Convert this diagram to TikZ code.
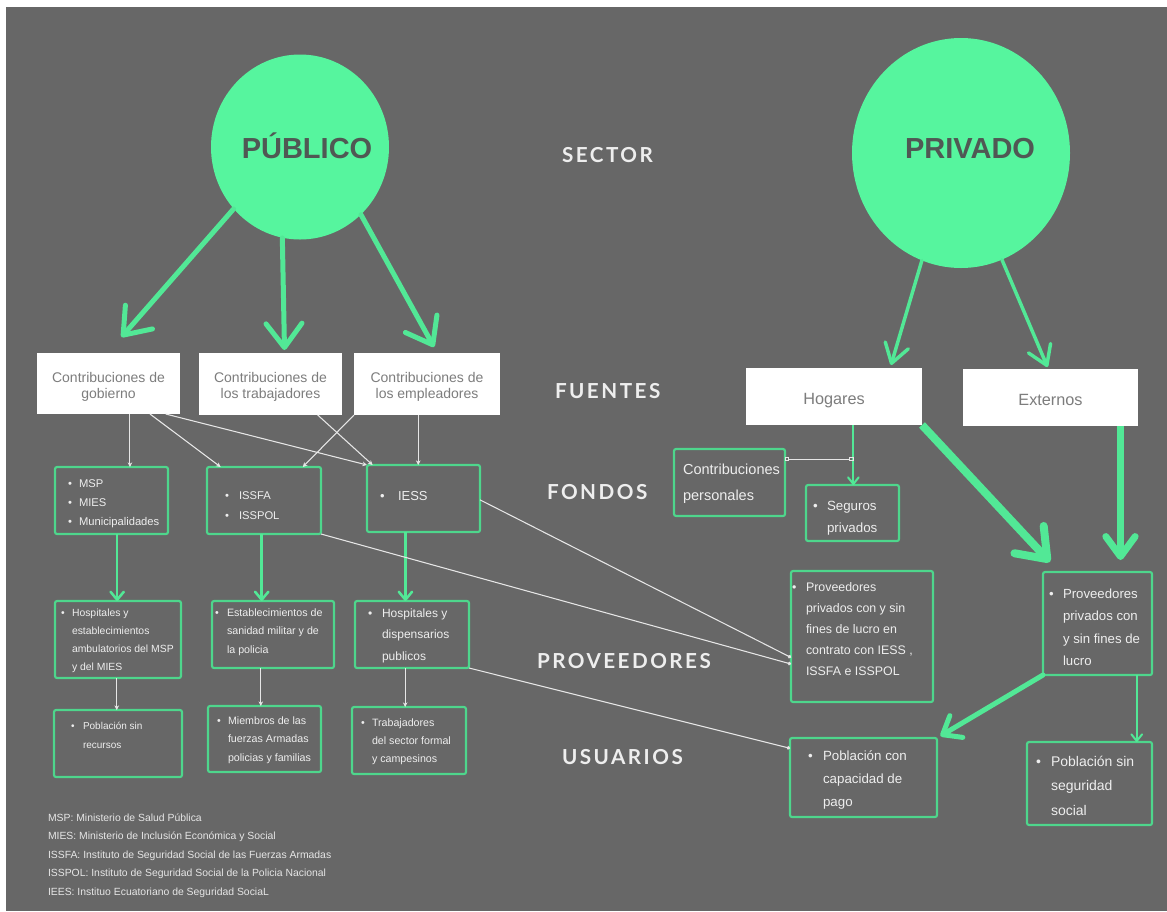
\documentclass[tikz,border=0pt]{standalone}
\usepackage{fontspec}
\setmainfont{Liberation Sans}
\newfontfamily\latof{Lato}[LetterSpace=12]
\usetikzlibrary{arrows.meta,calc,shapes.geometric}
\definecolor{bg}{RGB}{103,103,103}
\definecolor{mint}{RGB}{86,245,158}
\definecolor{gline}{RGB}{78,214,140}
\definecolor{garrow}{RGB}{82,232,150}
\definecolor{wtext}{RGB}{238,238,238}
\definecolor{btext}{RGB}{125,125,125}
\definecolor{ctext}{RGB}{80,88,84}
\definecolor{thinl}{RGB}{230,230,230}
\newcommand\bx[6][gbox]{\node[#1, anchor=north west, minimum width={(#5-#3)*0.75pt}, minimum height={(#6-#4)*0.75pt}] (#2) at (#3,#4) {};}
\newcommand\tl[7][tx]{\foreach \l [count=\i] in {#7}{\node[#1, font=\fontsize{#3}{#3}\selectfont] (#2\i) at (#4,{#5+(\i-1)*#6}) {\l};}}
\newcommand\bu[4]{\node[tx, font=\fontsize{#2}{#2}\selectfont] (#1) at (#3,#4) {\textbullet};}
\tikzset{
  gbox/.style={draw=gline, line width=1.6pt, rounded corners=1.5pt, fill=bg, inner sep=0pt, outer sep=0pt},
  wbox/.style={fill=white, draw=none, inner sep=0pt, outer sep=0pt},
  tx/.style={text=wtext, inner sep=0pt, outer sep=0pt, anchor=base west},
  btx/.style={text=btext, inner sep=0pt, outer sep=0pt, anchor=base},
  lg/.style={text=thinl, inner sep=0pt, outer sep=0pt, anchor=base west},
  hd/.style={text=wtext, inner sep=0pt, outer sep=0pt, anchor=base west, font=\latof\bfseries\fontsize{15.5}{15.5}\selectfont},
  ctx/.style={text=ctext, inner sep=0pt, anchor=base, font=\bfseries\fontsize{21.75}{21.75}\selectfont},
  thinar/.style={draw=thinl, line width=0.8pt, -{Stealth[length=3.5pt,width=3.5pt]}},
  thindot/.style={draw=thinl, line width=0.8pt, -{Circle[length=2.6pt]}},
  sgarr/.style={draw=garrow, line width=1.9pt, -{Straight Barb[length=6pt,width=10pt,round]}},
  tgarr/.style={draw=garrow, line width=1.5pt, -{Straight Barb[length=5pt,width=8pt,round]}},
  pubarr/.style={draw=garrow, line width=3.75pt, line cap=round, -{Straight Barb[length=18pt,width=27pt,round]}},
  privarr/.style={draw=garrow, line width=2.6pt, line cap=round, -{Straight Barb[length=14pt,width=18pt,round]}},
}
\begin{document}
\begin{tikzpicture}[x=0.75pt,y=-0.75pt]
\useasboundingbox (0,0) rectangle (1167,911);
\fill[white] (0,0) rectangle (1167,911);
\fill[bg] (6,7) rectangle (1167,911);
% sector circles
\node[ellipse, fill=mint, inner sep=0pt, minimum width={178*0.75pt}, minimum height={185*0.75pt}] (pub) at (300,147) {};
\node[ctx] (pubt) at (307,158) {PÚBLICO};
\node[ellipse, fill=mint, inner sep=0pt, minimum width={218*0.75pt}, minimum height={230*0.75pt}] (priv) at (961,153) {};
\node[ctx] (privt) at (970,158) {PRIVADO};
% headings
\node[hd] (lsec) at (562,162) {SECTOR};
\node[hd] (lfue) at (555,398) {FUENTES};
\node[hd] (lfon) at (547,499) {FONDOS};
\node[hd] (lpro) at (537,668) {PROVEEDORES};
\node[hd] (lusu) at (562,764) {USUARIOS};
% fuentes
\bx[wbox]{gob}{37}{353}{180}{414}
\bx[wbox]{trab}{199}{353}{342}{415}
\bx[wbox]{emp}{354}{353}{500}{415}
\bx[wbox]{hog}{746}{368}{922}{425}
\bx[wbox]{ext}{963}{369}{1138}{426}
\tl[btx]{gobt}{10.5}{108.5}{382}{16}{Contribuciones de,gobierno}
\tl[btx]{trabt}{10.5}{270.5}{382}{16}{Contribuciones de,los trabajadores}
\tl[btx]{empt}{10.5}{427}{382}{16}{Contribuciones de,los empleadores}
\tl[btx]{hogt}{12.2}{834}{404}{16}{Hogares}
\tl[btx]{extt}{12.2}{1050.5}{405}{16}{Externos}
% fondos
\bx{fmsp}{55}{467}{168}{534}
\foreach \y [count=\k] in {487,506,525}{\bu{fmspb\k}{8.4}{68}{\y}}
\tl{fmspt}{8.4}{79}{487}{19}{MSP,MIES,Municipalidades}
\bx{fiss}{207}{467}{321}{534}
\foreach \y [count=\k] in {499,519}{\bu{fissb\k}{8.4}{225}{\y}}
\tl{fisst}{8.4}{239}{499}{20}{ISSFA,ISSPOL}
\bx{fiess}{367}{465}{480}{532}
\bu{fiessb}{9.75}{380}{500}
\tl{fiesst}{9.75}{398}{500}{20}{IESS}
\bx{cp}{674}{449}{785}{516}
\tl{cpt}{10.9}{683}{474}{26}{Contribuciones,personales}
\bx{seg}{806}{485}{899}{541}
\bu{segb}{10}{813}{510}
\tl{segt}{10}{827}{510}{22}{Seguros,privados}
% proveedores
\bx{pr1}{55}{601}{181}{678}
\bu{pr1b}{7.8}{61}{616}
\tl{pr1t}{7.8}{72}{616}{18}{Hospitales y,establecimientos,ambulatorios del MSP,y del MIES}
\bx{pr2}{212}{601}{334}{668}
\bu{pr2b}{8}{215}{616}
\tl{pr2t}{8}{227}{616}{18.5}{Establecimientos de,sanidad militar y de,la policia}
\bx{pr3}{355}{601}{469}{668}
\bu{pr3b}{9}{368}{617}
\tl{pr3t}{9}{382}{617}{21.5}{Hospitales y,dispensarios,publicos}
\bx{pp1}{791}{571}{933}{702}
\bu{pp1b}{9.3}{792}{591}
\tl{pp1t}{9.3}{806}{591}{21.2}{Proveedores,privados con y sin,fines de lucro en,{contrato con IESS ,},ISSFA e ISSPOL}
\bx{pp2}{1043}{572}{1152}{675}
\bu{pp2b}{9.9}{1049}{598}
\tl{pp2t}{9.9}{1063}{598}{22.5}{Proveedores,privados con,y sin fines de,lucro}
% usuarios
\bx{u1}{54}{710}{182}{777}
\bu{u1b}{7.5}{71}{729}
\tl{u1t}{7.5}{83}{729}{19}{Población sin,recursos}
\bx{u2}{208}{706}{321}{772}
\bu{u2b}{8}{217}{724}
\tl{u2t}{8}{228}{724}{18.5}{Miembros de las,fuerzas Armadas,policias y familias}
\bx{u3}{352}{707}{466}{774}
\bu{u3b}{8}{361}{726}
\tl{u3t}{8}{372}{726}{18}{Trabajadores,del sector formal,y campesinos}
\bx{ucap}{790}{738}{937}{817}
\bu{ucapb}{10}{808}{760}
\tl{ucapt}{10}{823}{760}{23}{Población con,capacidad de,pago}
\bx{usin}{1027}{742}{1152}{825}
\bu{usinb}{10.5}{1036}{766}
\tl{usint}{10.5}{1051}{766}{24.5}{Población sin,seguridad,social}
% legend
\tl[lg]{leg}{7.8}{48}{821}{18.5}{MSP: Ministerio de Salud Pública,MIES: Ministerio de Inclusión Económica y Social,ISSFA: Instituto de Seguridad Social de las Fuerzas Armadas,ISSPOL: Instituto de Seguridad Social de la Policia Nacional,IEES: Instituo Ecuatoriano de Seguridad SociaL}
% --- connectors: sector -> fuentes
\coordinate (tp1) at ($(gob.north)+(13,-16)$);
\coordinate (tp2) at ($(trab.north)+(14,-3)$);
\coordinate (tp3) at ($(emp.north)+(7,-6)$);
\draw[pubarr] (pub.223) -- (tp1);
\draw[pubarr] (pub.259) -- (tp2);
\draw[pubarr] (pub.312) -- (tp3);
\coordinate (tv1) at ($(hog.north)+(57,-3)$);
\coordinate (tv2) at ($(ext.north)+(-3,-2)$);
\draw[privarr] (priv.250) -- (tv1);
\draw[privarr] (priv.291) -- (tv2);
% fuentes -> fondos
\coordinate (g1) at ($(gob.south west)!0.65!(gob.south east)$);
\draw[thinar] (g1) -- (g1 |- fmsp.north);
\draw[thinar] ($(gob.south west)!0.79!(gob.south east)$) -- ($(fiss.north west)!0.12!(fiss.north east)$);
\draw[thinar] ($(gob.south west)!0.9!(gob.south east)$) -- (fiess.north west);
\draw[thinar] ($(trab.south west)!0.83!(trab.south east)$) -- ($(fiess.north west)!0.05!(fiess.north east)$);
\draw[thinar] (emp.south west) -- ($(fiss.north west)!0.84!(fiss.north east)$);
\coordinate (e1) at ($(emp.south west)!0.44!(emp.south east)$);
\draw[thinar] (e1) -- (e1 |- fiess.north);
% fondos -> proveedores
\coordinate (f1) at ($(fmsp.south west)!0.55!(fmsp.south east)$);
\draw[sgarr] (f1) -- (f1 |- pr1.north);
\coordinate (f2) at ($(fiss.south west)!0.48!(fiss.south east)$);
\draw[sgarr] (f2) -- (f2 |- pr2.north);
\coordinate (f3) at ($(fiess.south west)!0.34!(fiess.south east)$);
\draw[sgarr] (f3) -- (f3 |- pr3.north);
\draw[thindot] ($(fiess.north east)!0.52!(fiess.south east)$) -- ($(pp1.north west)!0.66!(pp1.south west)$);
\draw[thindot] (fiss.south east) -- ($(pp1.north west)!0.71!(pp1.south west)$);
% proveedores -> usuarios
\coordinate (p1) at ($(pr1.south west)!0.49!(pr1.south east)$);
\draw[thinar] (p1) -- (p1 |- u1.north);
\coordinate (p2) at ($(pr2.south west)!0.4!(pr2.south east)$);
\draw[thinar] (p2) -- (p2 |- u2.north);
\coordinate (p3) at ($(pr3.south west)!0.44!(pr3.south east)$);
\draw[thinar] (p3) -- (p3 |- u3.north);
\draw[thindot] (pr3.south east) -- ($(ucap.north west)!0.13!(ucap.south west)$);
% privado side
\coordinate (h1) at ($(hog.south west)!0.61!(hog.south east)$);
\draw[tgarr] (h1) -- (h1 |- seg.north);
\coordinate (cpa) at ($(cp.north east)!0.15!(cp.south east)$);
\draw[draw=thinl, line width=0.6pt, {Square[open,length=3pt,width=3pt]}-{Square[open,length=3pt,width=3pt]}] (cpa) -- (cpa -| h1);
\coordinate (tv3) at ($(pp2.north west)+(7,-10)$);
\draw[draw=garrow, line width=6pt, -{Straight Barb[length=20pt,width=30pt,round]}] (hog.south east) -- (tv3);
\coordinate (x1) at ($(ext.south west)!0.9!(ext.south east)$);
\draw[draw=garrow, line width=5.2pt, shorten >=9pt, -{Straight Barb[length=15pt,width=22pt,round]}] (x1) -- (x1 |- pp2.north);
\draw[draw=garrow, line width=3.75pt, line cap=round, shorten >=3pt, -{Straight Barb[length=12pt,width=19pt,round]}] (pp2.south west) -- (ucap.north east);
\coordinate (q1) at ($(pp2.south west)!0.86!(pp2.south east)$);
\draw[tgarr] (q1) -- (q1 |- usin.north);
\end{tikzpicture}
\end{document}
